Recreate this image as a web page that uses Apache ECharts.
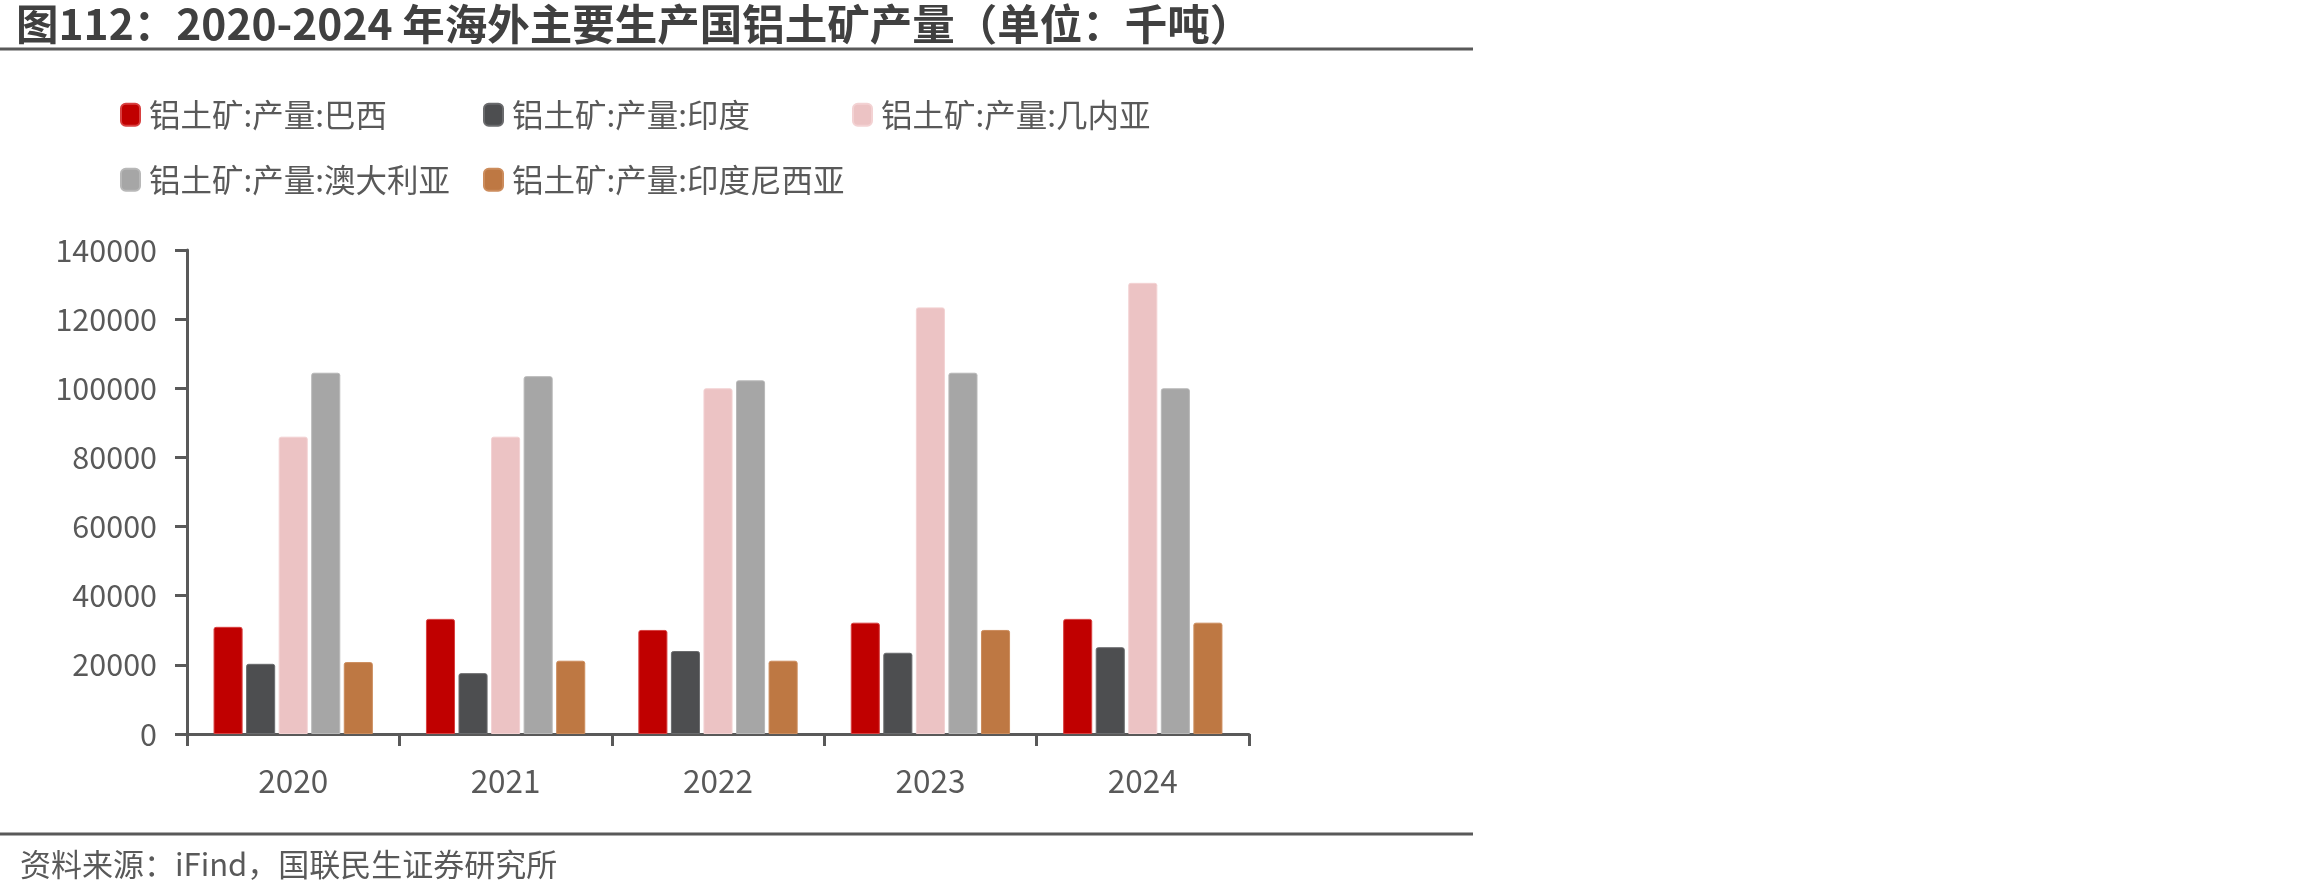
<!DOCTYPE html>
<html>
<head>
<meta charset="utf-8">
<script src="https://cdn.jsdelivr.net/npm/echarts@6/dist/echarts.min.js"></script>
<style>
html,body{margin:0;padding:0;background:#fff;}
#chart{width:2310px;height:895px;}
</style>
</head>
<body>
<div id="chart"></div>
<script>
var categories = ['2020', '2021', '2022', '2023', '2024'];
var seriesNames = ['铝土矿:产量:巴西', '铝土矿:产量:印度', '铝土矿:产量:几内亚', '铝土矿:产量:澳大利亚', '铝土矿:产量:印度尼西亚'];
var brazil = [31000, 33300, 30100, 32200, 33300];
var india = [20300, 17600, 24000, 23500, 25100];
var guinea = [86000, 86000, 100000, 123400, 130500];
var australia = [104500, 103500, 102300, 104500, 100000];
var indonesia = [20800, 21200, 21200, 30100, 32200];
var yTicks = [0, 20000, 40000, 60000, 80000, 100000, 120000, 140000];
var colors = ['#C00000', '#4D4E50', '#ECC3C4', '#A6A6A6', '#BE7843'];
var borderColors = ['#D84040', '#6A6B6D', '#F3D2D3', '#B8B8B8', '#CC8C5C'];

var FONT = '"Noto Sans CJK SC", "Noto Sans", sans-serif';
var values = [brazil, india, guinea, australia, indonesia];

var legendPos = [[120, 99], [483, 99], [852, 99], [120, 164], [483, 164]];
var legends = seriesNames.map(function (n, i) {
  return {
    data: [n],
    left: legendPos[i][0],
    top: legendPos[i][1],
    icon: 'roundRect',
    itemWidth: 19,
    itemHeight: 22,
    padding: 0,
    textStyle: {fontFamily: FONT, fontSize: 31.5, color: '#595959', padding: [0, 0, 0, 4]}
  };
});

var series = seriesNames.map(function (n, i) {
  return {
    name: n,
    type: 'bar',
    data: values[i],
    barGap: '12%',
    barCategoryGap: '25%',
    itemStyle: {color: colors[i], borderColor: borderColors[i], borderWidth: 1, borderRadius: [2, 2, 0, 0]}
  };
});

var chart = echarts.init(document.getElementById('chart'), null, {renderer: 'canvas'});
chart.setOption({
  animation: false,
  backgroundColor: '#fff',
  title: {
    text: '图112：2020-2024 年海外主要生产国铝土矿产量（单位：千吨）',
    left: 16, top: 3, padding: 0,
    textStyle: {fontFamily: FONT, fontSize: 42.5, fontWeight: 'bold', color: '#404040'}
  },
  legend: legends,
  grid: {left: 187, right: 1061, top: 250, bottom: 161, containLabel: false},
  xAxis: {
    type: 'category',
    data: categories,
    axisLine: {lineStyle: {color: '#595959', width: 3}},
    axisTick: {show: true, length: 12, lineStyle: {color: '#595959', width: 3}},
    axisLabel: {fontFamily: FONT, fontSize: 31.5, color: '#595959', margin: 31}
  },
  yAxis: {
    type: 'value',
    min: yTicks[0],
    max: yTicks[yTicks.length - 1],
    interval: yTicks[1] - yTicks[0],
    splitLine: {show: false},
    axisLine: {show: true, lineStyle: {color: '#595959', width: 3}},
    axisTick: {show: true, length: 12, lineStyle: {color: '#595959', width: 3}},
    axisLabel: {fontFamily: FONT, fontSize: 30.5, color: '#595959', margin: 30,
      formatter: function (v) { return String(v); }}
  },
  graphic: [
    {type: 'line', shape: {x1: 0, y1: 49, x2: 1473, y2: 49}, style: {stroke: '#595959', lineWidth: 3}},
    {type: 'line', shape: {x1: 0, y1: 834, x2: 1473, y2: 834}, style: {stroke: '#595959', lineWidth: 3}},
    {type: 'text', left: 20, top: 849, style: {text: '资料来源：iFind，国联民生证券研究所', font: '31px ' + FONT, fill: '#595959'}}
  ],
  series: series
});
</script>
</body>
</html>
